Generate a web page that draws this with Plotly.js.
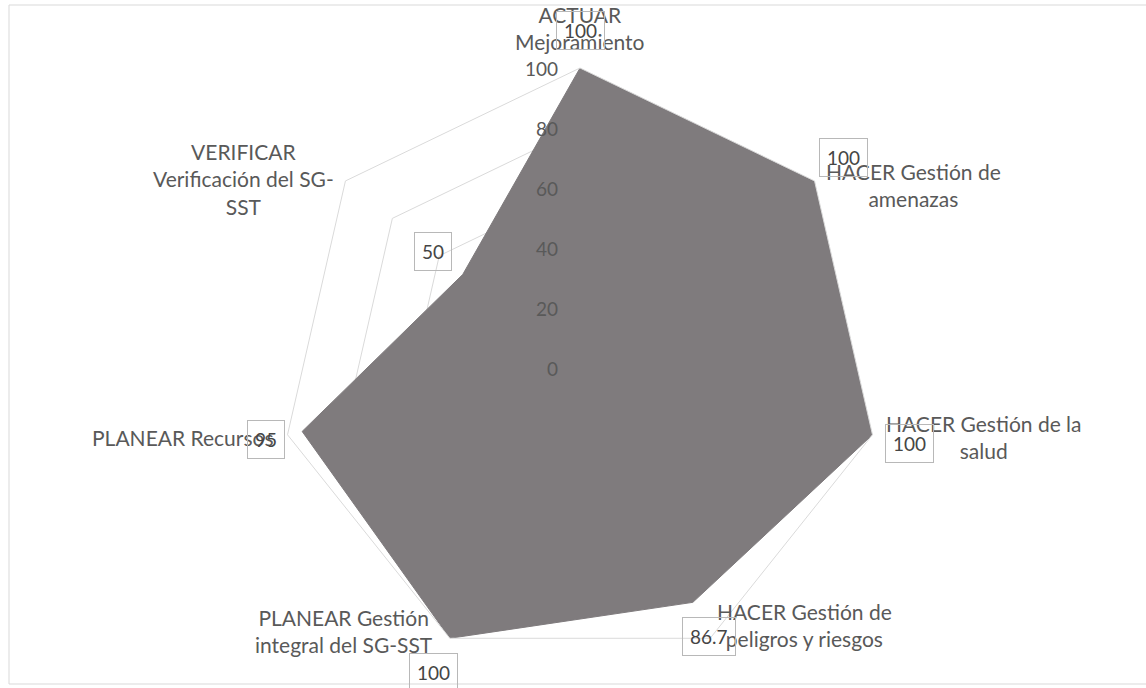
<!DOCTYPE html>
<html>
<head>
<meta charset="utf-8">
<script src="https://cdn.plot.ly/plotly-3.0.1.min.js"></script>
<style>
html,body{margin:0;padding:0;background:#ffffff;}
#chart{width:1146px;height:688px;}
</style>
</head>
<body>
<div id="chart"></div>
<script>
// Categories (clockwise from top) and values
const categories = [
  "ACTUAR<br>Mejoramiento",
  "HACER Gestión de<br>amenazas",
  "HACER Gestión de la<br>salud",
  "HACER Gestión de<br>peligros y riesgos",
  "PLANEAR Gestión<br>integral del SG-SST",
  "PLANEAR Recursos",
  "VERIFICAR<br>Verificación del SG-<br>SST"
];
const values = [100, 100, 100, 86.7, 100, 95, 50];
const valueLabels = ["100", "100", "100", "86.7", "100", "95", "50"];
const radialTicks = [0, 20, 40, 60, 80, 100];
const radialMax = 100;

// ---- geometry / styling (not data) ----
const W = 1146, H = 688;
const cx = 580, cy = 368, R = 300;          // polar centre and radius in px
const pxPerUnit = R / radialMax;
const FONT = "Lato, 'Open Sans', sans-serif";
const n = categories.length;
const angleOf = i => i * 2 * Math.PI / n;   // clockwise from top
const toX = (r, i) => r * Math.sin(angleOf(i));
const toY = (r, i) => r * Math.cos(angleOf(i));

const closedTheta = categories.concat([categories[0]]);
const closedR = values.concat([values[0]]);

const traces = [
  {
    type: "scatterpolar",
    subplot: "polar",
    r: closedR,
    theta: closedTheta,
    mode: "lines",
    fill: "toself",
    fillcolor: "#7f7b7d",
    line: {color: "#7f7b7d", width: 1},
    hoverinfo: "skip",
    showlegend: false
  },
  // invisible anchor trace so that the overlay cartesian axes exist
  {
    type: "scatter",
    x: [0], y: [0],
    mode: "markers",
    marker: {opacity: 0},
    hoverinfo: "skip",
    showlegend: false
  }
];

const annotations = [];

// category labels (placed outside each spoke, Excel-like)
categories.forEach((c, i) => {
  const s = Math.sin(angleOf(i)), co = Math.cos(angleOf(i));
  let xanchor = "center", yanchor = "middle", xshift = 0, yshift = 0;
  if (s > 0.1) xanchor = "left";
  else if (s < -0.1) xanchor = "right";
  if (co > 0.95) yanchor = "bottom";
  if (co > 0.5 && s > 0.1) yshift = -12;
  if (co > 0.5 && s < -0.1) yshift = -6;
  if (co < -0.8) {
    yshift = s > 0 ? 24 : 18;
    if (s < 0) xshift = -10;
  }
  annotations.push({
    xref: "x", yref: "y",
    x: toX(radialMax + 4, i), y: toY(radialMax + 4, i),
    text: c, showarrow: false,
    xanchor: xanchor, yanchor: yanchor, xshift: xshift, yshift: yshift,
    align: "center",
    font: {family: FONT, size: 21, color: "#595959"}
  });
});

// radial tick labels
radialTicks.forEach(t => {
  annotations.push({
    xref: "x", yref: "y",
    x: 0, y: t,
    text: String(t), showarrow: false,
    xanchor: "right", yanchor: "middle", xshift: -20,
    font: {family: FONT, size: 19, color: "#595959"}
  });
});

// boxed data labels
const labelOffset = 12.5;
values.forEach((v, i) => {
  annotations.push({
    xref: "x", yref: "y",
    x: toX(v + labelOffset, i), y: toY(v + labelOffset, i),
    text: valueLabels[i], showarrow: false,
    xanchor: "center", yanchor: "middle",
    bordercolor: "#b8b8b8", borderwidth: 1, borderpad: 7,
    bgcolor: "rgba(255,255,255,0)",
    font: {family: FONT, size: 19, color: "#454545"}
  });
});

const layout = {
  width: W, height: H,
  margin: {l: 0, r: 0, t: 0, b: 0},
  paper_bgcolor: "#ffffff",
  plot_bgcolor: "rgba(0,0,0,0)",
  showlegend: false,
  font: {family: FONT, color: "#595959"},
  xaxis: {
    range: [-cx / pxPerUnit, (W - cx) / pxPerUnit],
    visible: false, fixedrange: true, domain: [0, 1]
  },
  yaxis: {
    range: [-(H - cy) / pxPerUnit, cy / pxPerUnit],
    visible: false, fixedrange: true, domain: [0, 1]
  },
  polar: {
    domain: {x: [(cx - R) / W, (cx + R) / W], y: [1 - (cy + R) / H, 1 - (cy - R) / H]},
    bgcolor: "rgba(0,0,0,0)",
    gridshape: "linear",
    radialaxis: {
      range: [0, radialMax],
      tickvals: radialTicks,
      angle: 90,
      showline: false,
      showticklabels: false,
      ticks: "",
      gridcolor: "#dadada",
      gridwidth: 1
    },
    angularaxis: {
      rotation: 90,
      direction: "clockwise",
      showgrid: false,
      showline: true,
      linecolor: "#dadada",
      showticklabels: false,
      ticks: ""
    }
  },
  annotations: annotations,
  shapes: [
    {type: "rect", xref: "paper", yref: "paper",
     x0: 9 / W, x1: 1.01, y0: 1 - 684 / H, y1: 1 - 5 / H,
     line: {color: "#d9d9d9", width: 1}}
  ]
};

Plotly.newPlot("chart", traces, layout, {displayModeBar: false, staticPlot: true});
</script>
</body>
</html>
